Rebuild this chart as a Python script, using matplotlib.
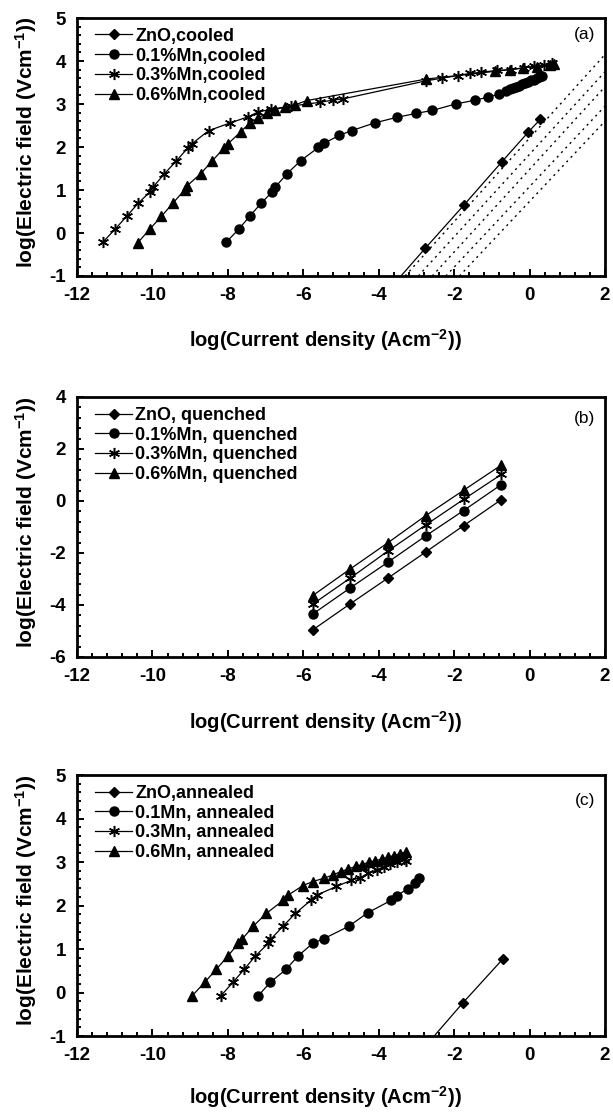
import matplotlib
matplotlib.use("Agg")
import matplotlib.pyplot as plt
from matplotlib.ticker import MultipleLocator, AutoMinorLocator

plt.rcParams['font.family'] = ['Liberation Sans', 'DejaVu Sans']
plt.rcParams['font.weight'] = 'bold'
plt.rcParams['mathtext.fontset'] = 'custom'
plt.rcParams['mathtext.rm'] = 'Liberation Sans:bold'
plt.rcParams['mathtext.bf'] = 'Liberation Sans:bold'
plt.rcParams['mathtext.default'] = 'bf'
plt.rcParams['axes.unicode_minus'] = False

# ---------------- (a) cooled ----------------
A_ZNO_X = [-3.75, -2.76, -1.75, -0.74, -0.03, 0.28]
A_ZNO_Y = [-1.34, -0.35, 0.64, 1.65, 2.35, 2.64]

A_MN1_X = [-8.05, -7.71, -7.42, -7.11, -6.83, -6.75, -6.43, -6.07, -5.60, -5.44,
           -5.05, -4.72, -4.11, -3.52, -3.02, -2.58, -1.96, -1.44, -1.09, -0.81,
           -0.62, -0.52, -0.43, -0.35, -0.27, -0.19, -0.11, -0.03, 0.05, 0.12,
           0.19, 0.26, 0.33]
A_MN1_Y = [-0.22, 0.09, 0.39, 0.70, 0.95, 1.06, 1.38, 1.68, 1.99, 2.09,
           2.27, 2.38, 2.56, 2.69, 2.78, 2.85, 3.00, 3.09, 3.16, 3.23,
           3.30, 3.34, 3.37, 3.40, 3.43, 3.46, 3.49, 3.52, 3.55, 3.57,
           3.60, 3.62, 3.64]

A_MN3_X = [-11.32, -10.99, -10.68, -10.37, -10.07, -9.99, -9.68, -9.37, -9.06, -8.96,
           -8.51, -7.94, -7.47, -7.21, -6.85, -6.33, -5.55, -5.22, -4.94,
           -2.74, -2.32, -1.91, -1.59, -1.28, -0.87, -0.50, -0.14, 0.12, 0.38, 0.59]
A_MN3_Y = [-0.22, 0.09, 0.39, 0.70, 0.95, 1.06, 1.38, 1.67, 1.98, 2.07,
           2.38, 2.56, 2.70, 2.81, 2.88, 2.95, 3.04, 3.09, 3.12,
           3.54, 3.60, 3.66, 3.71, 3.74, 3.78, 3.80, 3.84, 3.88, 3.91, 3.95]

A_MN6_X = [-10.39, -10.07, -9.76, -9.45, -9.14, -9.09, -8.72, -8.41, -8.10, -7.99,
           -7.65, -7.42, -7.21, -6.95, -6.75, -6.48, -6.22, -5.91,
           -2.74, -0.92, -0.52, -0.17, 0.20, 0.54, 0.64]
A_MN6_Y = [-0.23, 0.09, 0.39, 0.70, 1.01, 1.09, 1.38, 1.68, 1.98, 2.08,
           2.36, 2.56, 2.67, 2.79, 2.87, 2.93, 2.98, 3.08,
           3.58, 3.76, 3.80, 3.84, 3.87, 3.90, 3.92]

# dotted guide lines in (a): start / end points
DOT_X0 = [-3.30, -2.95, -2.58, -2.22, -1.86]
DOT_Y0 = [-1.0, -1.0, -1.0, -1.0, -1.0]
DOT_X1 = [2.0, 2.0, 2.0, 2.0, 2.0]
DOT_Y1 = [4.15, 3.75, 3.40, 2.95, 2.60]

# ---------------- (b) quenched ----------------
B_X = [-5.75, -4.75, -3.75, -2.75, -1.75, -0.75]
B_ZNO_Y = [-4.96, -3.95, -2.96, -1.96, -0.95, 0.05]
B_MN1_Y = [-4.35, -3.34, -2.35, -1.34, -0.37, 0.63]
B_MN3_Y = [-3.97, -2.96, -1.92, -0.92, 0.06, 1.02]
B_MN6_Y = [-3.64, -2.61, -1.60, -0.56, 0.41, 1.38]

# ---------------- (c) annealed ----------------
C_ZNO_X = [-2.76, -1.76, -0.71]
C_ZNO_Y = [-1.23, -0.23, 0.77]

C_MN1_X = [-7.19, -6.87, -6.46, -6.14, -5.75, -5.45, -4.80, -4.28, -3.67, -3.52,
           -3.23, -3.04, -2.92]
C_MN1_Y = [-0.07, 0.24, 0.53, 0.84, 1.13, 1.24, 1.52, 1.84, 2.12, 2.22,
           2.39, 2.53, 2.63]

C_MN3_X = [-8.18, -7.86, -7.57, -7.27, -6.93, -6.87, -6.53, -6.21, -5.80, -5.64,
           -5.12, -4.73, -4.50, -4.28, -4.05, -3.87, -3.70, -3.52, -3.34, -3.28]
C_MN3_Y = [-0.07, 0.24, 0.53, 0.84, 1.13, 1.22, 1.53, 1.82, 2.12, 2.24,
           2.44, 2.58, 2.64, 2.74, 2.82, 2.89, 2.95, 3.00, 3.06, 3.03]

C_MN6_X = [-8.94, -8.61, -8.31, -8.00, -7.72, -7.63, -7.32, -6.98, -6.53, -6.40,
           -6.01, -5.75, -5.45, -5.22, -5.01, -4.81, -4.61, -4.44, -4.26, -4.09,
           -3.91, -3.75, -3.60, -3.44, -3.28]
C_MN6_Y = [-0.07, 0.24, 0.53, 0.84, 1.13, 1.22, 1.53, 1.82, 2.12, 2.24,
           2.46, 2.55, 2.63, 2.70, 2.78, 2.84, 2.90, 2.94, 3.00, 3.03,
           3.07, 3.11, 3.15, 3.19, 3.23]

XLABEL = 'log(Current density (Acm$^{-2}$))'
YLABEL = 'log(Electric field (Vcm$^{-1}$))'

MARK = {
    'zno': dict(marker='D', ms=5),
    'mn1': dict(marker='o', ms=6.5),
    'mn3': dict(marker=(6, 2, 0), ms=8, mew=1.1),
    'mn6': dict(marker='^', ms=6.8),
}


def series(ax, x, y, kind, label):
    ax.plot(x, y, color='black', lw=0.9, mfc='black', mec='black',
            label=label, **MARK[kind])


def style(ax, ylim, ystep, tag, tag_y, xlab_y=-0.25):
    ax.set_xlim(-12, 2)
    ax.set_ylim(*ylim)
    ax.xaxis.set_major_locator(MultipleLocator(2))
    ax.xaxis.set_minor_locator(AutoMinorLocator(5))
    ax.yaxis.set_major_locator(MultipleLocator(ystep))
    ax.yaxis.set_minor_locator(AutoMinorLocator(5))
    ax.tick_params(which='both', direction='in', top=False, right=False,
                   width=1.4, labelsize=13.5, pad=8)
    ax.tick_params(which='major', length=5)
    ax.tick_params(which='minor', length=3)
    for s in ax.spines.values():
        s.set_linewidth(2.0)
    for lab in ax.get_xticklabels() + ax.get_yticklabels():
        lab.set_fontweight('bold')
    ax.set_xlabel(XLABEL, fontsize=14.5, fontweight='bold', va='center')
    ax.set_ylabel(YLABEL, fontsize=15, fontweight='bold', va='center')
    ax.xaxis.set_label_coords(0.47, xlab_y)
    ax.yaxis.set_label_coords(-0.097, 0.52)
    ax.text(0.981, tag_y, tag, transform=ax.transAxes, ha='right', va='center',
            fontsize=12.5, fontweight='normal')
    ax.legend(loc='upper left', bbox_to_anchor=(0.035, 0.962), frameon=False,
              fontsize=13, handlelength=2.0, handletextpad=0.2,
              labelspacing=0.15, borderpad=0, borderaxespad=0)


fig = plt.figure(figsize=(6.13, 11.12), dpi=100)
ax_a = fig.add_axes([0.1256, 0.7518, 0.8613, 0.2320])
ax_b = fig.add_axes([0.1256, 0.4092, 0.8613, 0.2338])
ax_c = fig.add_axes([0.1256, 0.0683, 0.8613, 0.2347])

# (a)
for x0, y0, x1, y1 in zip(DOT_X0, DOT_Y0, DOT_X1, DOT_Y1):
    ax_a.plot([x0, x1], [y0, y1], color='black', lw=1.0, ls=(0, (1.5, 3)))
series(ax_a, A_ZNO_X, A_ZNO_Y, 'zno', 'ZnO,cooled')
series(ax_a, A_MN1_X, A_MN1_Y, 'mn1', '0.1%Mn,cooled')
series(ax_a, A_MN3_X, A_MN3_Y, 'mn3', '0.3%Mn,cooled')
series(ax_a, A_MN6_X, A_MN6_Y, 'mn6', '0.6%Mn,cooled')
style(ax_a, (-1, 5), 1, '(a)', 0.935)

# (b)
series(ax_b, B_X, B_ZNO_Y, 'zno', 'ZnO, quenched')
series(ax_b, B_X, B_MN1_Y, 'mn1', '0.1%Mn, quenched')
series(ax_b, B_X, B_MN3_Y, 'mn3', '0.3%Mn, quenched')
series(ax_b, B_X, B_MN6_Y, 'mn6', '0.6%Mn, quenched')
style(ax_b, (-6, 4), 2, '(b)', 0.919)

# (c)
series(ax_c, C_ZNO_X, C_ZNO_Y, 'zno', 'ZnO,annealed')
series(ax_c, C_MN1_X, C_MN1_Y, 'mn1', '0.1Mn, annealed')
series(ax_c, C_MN3_X, C_MN3_Y, 'mn3', '0.3Mn, annealed')
series(ax_c, C_MN6_X, C_MN6_Y, 'mn6', '0.6Mn, annealed')
style(ax_c, (-1, 5), 1, '(c)', 0.904, xlab_y=-0.235)

fig.savefig('out.png', dpi=100)
